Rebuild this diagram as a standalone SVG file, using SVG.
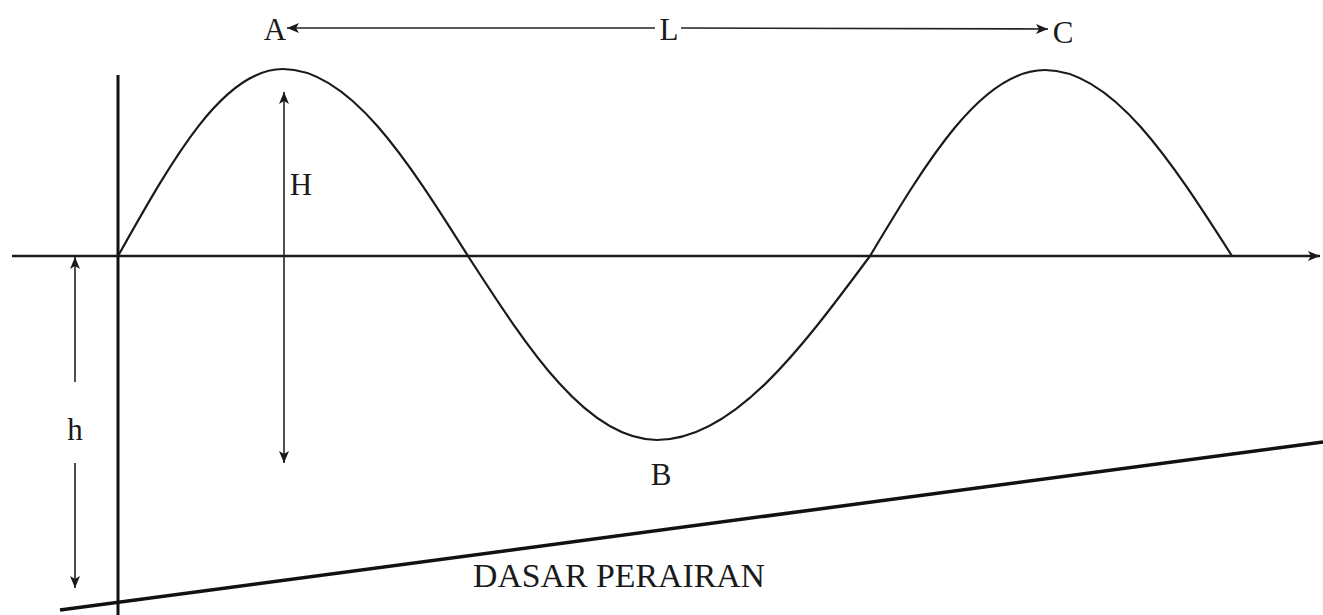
<svg xmlns="http://www.w3.org/2000/svg" width="1323" height="615" viewBox="0 0 1323 615">
<style>
.lbl{font-family:"Liberation Serif","Times New Roman",serif;font-size:31px;fill:#1a1a1a;text-anchor:middle}
.thin{stroke:#222;stroke-width:1.6;fill:none}
</style>
<defs>
<marker id="ah" viewBox="0 0 12 10" refX="12" refY="5" markerWidth="12" markerHeight="10" markerUnits="userSpaceOnUse" orient="auto">
<path d="M0,0 L12,5 L0,10 L3,5 Z" fill="#1a1a1a"/>
</marker>
</defs>
<rect width="1323" height="615" fill="#fff"/>
<g id="axes">
<line x1="12" y1="256" x2="1320" y2="256" stroke="#1a1a1a" stroke-width="2.5" marker-end="url(#ah)"/>
<line x1="118" y1="75" x2="118" y2="615" stroke="#111" stroke-width="3"/>
<line x1="60" y1="610" x2="1323" y2="442" stroke="#111" stroke-width="3.5"/>
</g>
<g id="wave">
<path d="M118,256 C171.8,160.7 222.4,69 283,69 C350,69 407.7,160.7 468,256 C529,350.3 587.4,440 657,440 C733,440 800,350.3 870,256 C927,160.7 981.7,70 1045,70 C1112.6,70 1171,160.7 1232,256" fill="none" stroke="#1a1a1a" stroke-width="2.2"/>
</g>
<g id="connectors">
<line class="thin" x1="655" y1="28" x2="287" y2="28" marker-end="url(#ah)"/>
<line class="thin" x1="681" y1="28" x2="1048" y2="29" marker-end="url(#ah)"/>
<line class="thin" x1="284" y1="275" x2="284" y2="92" marker-end="url(#ah)"/>
<line class="thin" x1="284" y1="275" x2="284" y2="463" marker-end="url(#ah)"/>
<line class="thin" x1="75" y1="382" x2="75" y2="257" marker-end="url(#ah)"/>
<line class="thin" x1="75" y1="463" x2="75" y2="588" marker-end="url(#ah)"/>
</g>
<g id="label-A"><text class="lbl" x="275" y="40">A</text></g>
<g id="label-L"><text class="lbl" x="669" y="40">L</text></g>
<g id="label-C"><text class="lbl" x="1063" y="43">C</text></g>
<g id="label-H"><text class="lbl" x="301" y="195">H</text></g>
<g id="label-B"><text class="lbl" x="661" y="485">B</text></g>
<g id="label-h"><text class="lbl" x="75" y="440">h</text></g>
<g id="label-dasar"><text class="lbl" x="619" y="587" style="font-size:33px" textLength="292" lengthAdjust="spacingAndGlyphs">DASAR PERAIRAN</text></g>
</svg>
